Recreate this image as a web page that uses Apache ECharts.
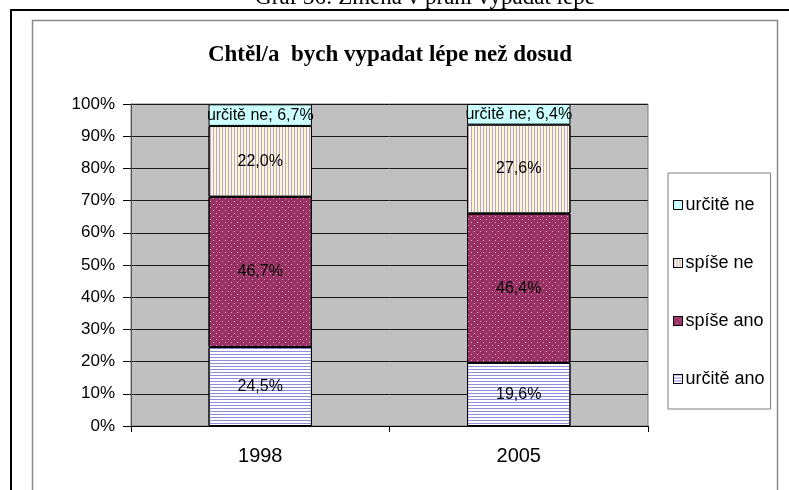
<!DOCTYPE html>
<html>
<head>
<meta charset="utf-8">
<script src="https://cdn.jsdelivr.net/npm/echarts@6/dist/echarts.min.js"></script>
<style>
  html, body { margin: 0; padding: 0; background: #fff; }
  #chart { width: 789px; height: 490px; }
</style>
</head>
<body>
<div id="chart"></div>
<script>
const categories = ['1998', '2005'];
const seriesNames = ['určitě ano', 'spíše ano', 'spíše ne', 'určitě ne'];
const urciteAno = [24.5, 19.6];
const spiseAno = [46.7, 46.4];
const spiseNe = [22.0, 27.6];
const urciteNe = [6.7, 6.4];
const legendOrder = ['určitě ne', 'spíše ne', 'spíše ano', 'určitě ano'];
const chartTitle = 'Chtěl/a  bych vypadat lépe než dosud';
const pageCaption = 'Graf 36: Změna v přání vypadat lépe';

const FONT = '"Liberation Sans", Arial, sans-serif';
const SERIF = '"Liberation Serif", "Times New Roman", serif';

function fmt(v) { return v.toFixed(1).replace('.', ',') + '%'; }

const styles = {
  'určitě ano': {
    color: '#FFFFFF',
    decal: { symbol: 'rect', symbolSize: 1, color: '#8E8EDC', dashArrayX: [1, 0], dashArrayY: [1, 2] }
  },
  'spíše ano': {
    color: '#993366',
    decal: { symbol: 'rect', symbolSize: 1, color: 'rgba(255,190,225,0.75)', dashArrayX: [[1, 5], [0, 3, 1, 2]], dashArrayY: [1, 2] }
  },
  'spíše ne': {
    color: '#FFF8D0',
    decal: { symbol: 'rect', symbolSize: 1, color: '#B9A3D6', dashArrayX: [1, 2], dashArrayY: [1, 0] }
  },
  'určitě ne': { color: '#CCFFFF' }
};

const dataMap = {
  'určitě ano': urciteAno,
  'spíše ano': spiseAno,
  'spíše ne': spiseNe,
  'určitě ne': urciteNe
};

const series = seriesNames.map(function (name) {
  const st = styles[name];
  const itemStyle = { color: st.color, borderColor: '#000', borderWidth: 1 };
  if (st.decal) itemStyle.decal = st.decal;
  return {
    name: name,
    type: 'bar',
    stack: 'total',
    barCategoryGap: '60%',
    data: dataMap[name],
    itemStyle: itemStyle,
    emphasis: { disabled: true },
    label: {
      show: true,
      position: 'inside',
      color: '#000',
      fontFamily: FONT,
      fontSize: 16,
      formatter: function (p) {
        return name === 'určitě ne' ? 'určitě ne; ' + fmt(p.value) : fmt(p.value);
      }
    }
  };
});

const chart = echarts.init(document.getElementById('chart'), null, { renderer: 'canvas' });
chart.setOption({
  animation: false,
  backgroundColor: '#fff',
  title: {
    text: chartTitle,
    left: 390,
    textAlign: 'center',
    top: 44,
    padding: 0,
    textStyle: { fontFamily: SERIF, fontSize: 23, fontWeight: 'bold', color: '#000' }
  },
  graphic: [
    {
      type: 'rect',
      shape: { x: 11, y: 10, width: 800, height: 500 },
      style: { fill: 'none', stroke: '#000', lineWidth: 2 },
      z: -10
    },
    {
      type: 'rect',
      shape: { x: 32.5, y: 20.5, width: 745, height: 500 },
      style: { fill: 'none', stroke: '#8A8A8A', lineWidth: 1.5 },
      z: -10
    },
    {
      type: 'text',
      x: 425,
      y: 9,
      style: {
        text: pageCaption,
        fontFamily: SERIF,
        fontSize: 23,
        fill: '#000',
        align: 'center',
        verticalAlign: 'bottom'
      }
    }
  ],
  legend: {
    data: legendOrder,
    orient: 'vertical',
    left: 668,
    top: 173,
    padding: [23, 6, 21, 5],
    itemWidth: 9,
    itemHeight: 9,
    itemGap: 40,
    icon: 'rect',
    backgroundColor: '#fff',
    borderColor: '#7F7F7F',
    borderWidth: 1,
    itemStyle: { borderColor: '#000', borderWidth: 1 },
    textStyle: { fontFamily: FONT, fontSize: 18, color: '#000', padding: [0, 0, 0, -2] }
  },
  grid: {
    left: 131,
    right: 141,
    top: 104,
    bottom: 64,
    show: true,
    backgroundColor: '#C0C0C0',
    borderColor: '#808080',
    borderWidth: 1,
    containLabel: false
  },
  xAxis: {
    type: 'category',
    data: categories,
    boundaryGap: true,
    axisLine: { lineStyle: { color: '#000', width: 1 } },
    axisTick: { show: true, length: 6, lineStyle: { color: '#000' } },
    axisLabel: { margin: 20, fontFamily: FONT, fontSize: 20, color: '#000' }
  },
  yAxis: {
    type: 'value',
    min: 0,
    max: 100,
    interval: 10,
    axisLine: { show: true, lineStyle: { color: '#555', width: 1 } },
    axisTick: { show: true, length: 8, lineStyle: { color: '#000' } },
    axisLabel: { margin: 16, fontFamily: FONT, fontSize: 17, color: '#000', formatter: '{value}%' },
    splitLine: { show: true, lineStyle: { color: '#1A1A1A', width: 1 } }
  },
  series: series
});
</script>
</body>
</html>
